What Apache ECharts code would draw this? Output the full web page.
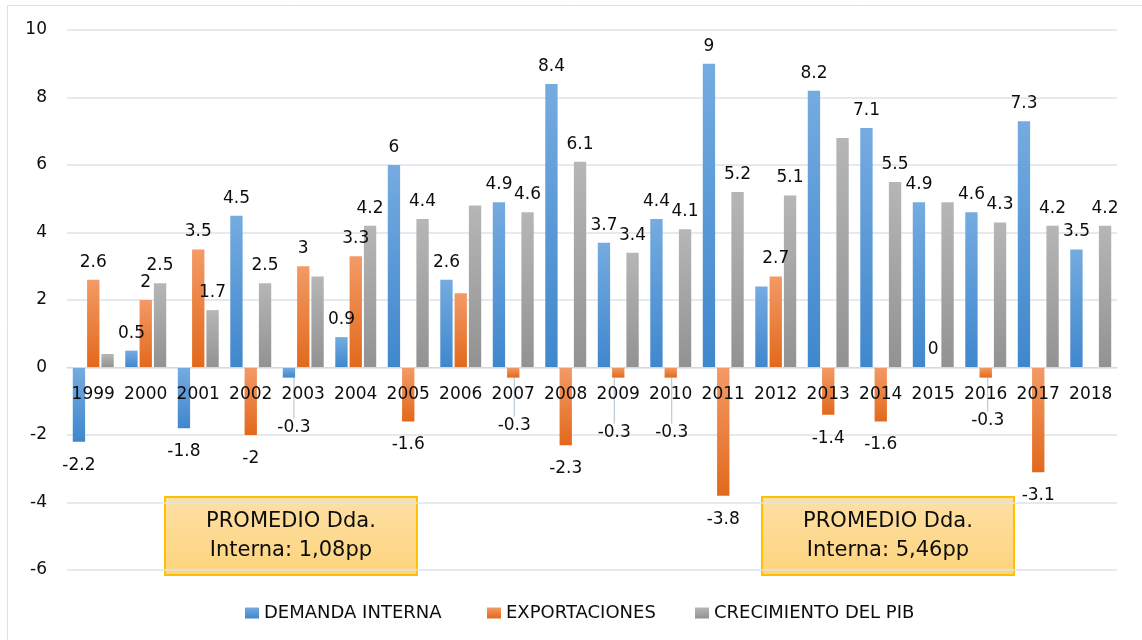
<!DOCTYPE html>
<html><head><meta charset="utf-8">
<script src="https://cdn.jsdelivr.net/npm/echarts@6/dist/echarts.min.js"></script>
<style>html,body{margin:0;padding:0;background:#fff}#c{width:1142px;height:640px}</style>
</head><body><div id="c"></div>
<script>
// ---- data ----
const years = ['1999','2000','2001','2002','2003','2004','2005','2006','2007','2008','2009','2010','2011','2012','2013','2014','2015','2016','2017','2018'];
const demandaInterna = [-2.2,0.5,-1.8,4.5,-0.3,0.9,6,2.6,4.9,8.4,3.7,4.4,9,2.4,8.2,7.1,4.9,4.6,7.3,3.5];
const exportaciones = [2.6,2,3.5,-2,3,3.3,-1.6,2.2,-0.3,-2.3,-0.3,-0.3,-3.8,2.7,-1.4,-1.6,0,-0.3,-3.1,null];
const crecimientoPIB = [0.4,2.5,1.7,2.5,2.7,4.2,4.4,4.8,4.6,6.1,3.4,4.1,5.2,5.1,6.8,5.5,4.9,4.3,4.2,4.2];
const seriesNames = ['DEMANDA INTERNA','EXPORTACIONES','CRECIMIENTO DEL PIB'];
const yMin = -6, yMax = 10, yStep = 2;
const notes = [['PROMEDIO Dda.','Interna: 1,08pp'],['PROMEDIO Dda.','Interna: 5,46pp']];
// which data labels are not shown in the original
const hiddenLabels = [[13],[7,19],[0,4,7,14,16]];
// labels that were dragged away (with leader line)
const movedLabels = [{4:[5,26]},{8:[1,24],10:[-4,31],11:[1,31],17:[2,19]},{}];

// ---- style / layout ----
const FONT = 'DejaVu Sans';
const G = {left:67, right:25, top:30, bottom:70};
const plotH = 640 - G.top - G.bottom;
// x labels sit just under the zero line (the category axis crosses at 0)
const zeroFromBottom = (0 - yMin) / (yMax - yMin) * plotH;
const xLabelMargin = 19 - zeroFromBottom;

function grad(a,b){return new echarts.graphic.LinearGradient(0,0,0,1,[{offset:0,color:a},{offset:1,color:b}]);}
const fills = [grad('#75abe0','#3f87cd'), grad('#f39a66','#e2691b'), grad('#b6b6b6','#929292')];

function build(values, si){
  return values.map((v,i)=>{
    const item = {value:v};
    const lab = {};
    if (hiddenLabels[si].includes(i)) lab.show = false;
    if (v != null && v < 0) { lab.position = 'bottom'; lab.distance = 15; }
    if (Object.keys(lab).length) item.label = lab;
    if (movedLabels[si][i]) item.labelLine = {show:true};
    return item;
  });
}
const allValues = [demandaInterna, exportaciones, crecimientoPIB];

const series = allValues.map((vals,si)=>({
  name: seriesNames[si],
  type:'bar',
  data: build(vals,si),
  barCategoryGap:'22%',
  barGap:'16%',
  itemStyle:{color:fills[si]},
  label:{
    show:true,
    position: 'top',
    distance: 9,
    fontFamily: FONT, fontSize:17, color:'#0d0d0d',
    formatter: p => p.value == null ? '' : String(p.value)
  },
  labelLine:{show:false, lineStyle:{color:'#aebdd0', width:1}},
  labelLayout: function(p){
    const m = movedLabels[si][p.dataIndex];
    if (m) return {dx:m[0], dy:m[1]};
    return {};
  }
}));

const legends = seriesNames.map((n,i)=>({
  data:[n], left:[245,487,695][i], top:604, padding:0,
  icon:'rect', itemWidth:14, itemHeight:11,
  textStyle:{fontFamily:FONT, fontSize:18, color:'#0d0d0d'}
}));

function noteBox(x, lines){
  return {
    type:'group', left:x, top:496, z:20,
    children:[
      {type:'rect', shape:{x:0,y:0,width:252,height:78},
       style:{fill:grad('#fee0a6','#fdd47c'), stroke:'#ffc000', lineWidth:2}},
      {type:'text', x:126, y:39,
       style:{text:lines.join('\n'), font:'21px "DejaVu Sans"', fill:'#0d0d0d',
              align:'center', verticalAlign:'middle', lineHeight:29}}
    ]
  };
}

const chart = echarts.init(document.getElementById('c'), null, {renderer:'canvas'});
chart.setOption({
  backgroundColor:'#fff',
  animation:false,
  grid:{left:G.left, right:G.right, top:G.top, bottom:G.bottom, containLabel:false},
  legend: legends,
  xAxis:{
    type:'category', data:years, z:5,
    axisLine:{onZero:true, lineStyle:{color:'#d5d9df', width:1}},
    axisTick:{show:false},
    axisLabel:{fontFamily:FONT, fontSize:17, color:'#0d0d0d', margin:xLabelMargin, interval:0}
  },
  yAxis:{
    type:'value', min:yMin, max:yMax, interval:yStep,
    axisLine:{show:false}, axisTick:{show:false},
    splitLine:{lineStyle:{color:'#dde3eb', width:1.5}},
    axisLabel:{fontFamily:FONT, fontSize:17, color:'#0d0d0d', margin:20}
  },
  graphic:[
    {type:'rect', z:0, shape:{x:7.5,y:5.5,width:1300,height:800}, style:{fill:null, stroke:'#dde1e7', lineWidth:1}, silent:true},
    noteBox(164, notes[0]),
    noteBox(761, notes[1])
  ],
  series: series
});
</script>
</body></html>
